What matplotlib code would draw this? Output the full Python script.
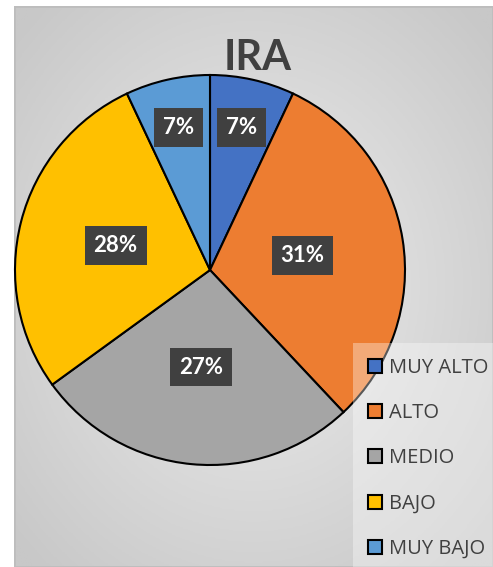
import numpy as np
import matplotlib as mpl
mpl.use('Agg')
import matplotlib.pyplot as plt

# data
categories = ['MUY ALTO', 'ALTO', 'MEDIO', 'BAJO', 'MUY BAJO']
values = [7, 31, 27, 28, 7]
colors = ['#4472C4', '#ED7D31', '#A5A5A5', '#FFC000', '#5B9BD5']
label_r = [0.75, 0.48, 0.5, 0.5, 0.75]  # where Excel put each data label

W, H = 493, 567
fig = plt.figure(figsize=(W / 100, H / 100), dpi=100)
fig.patch.set_facecolor('white')

# chart area with radial gray gradient
bg = fig.add_axes([14 / W, 0, 1 - 14 / W, 1 - 6 / H])
bg.set_axis_off()
yy, xx = np.mgrid[-1:1:300j, -1:1:300j]
rr = np.clip(np.sqrt(xx ** 2 + yy ** 2) / 1.35, 0, 1)
bg.imshow(rr, cmap=mpl.colors.LinearSegmentedColormap.from_list(
    'g', ['#ededed', '#c8c8c8']), aspect='auto', extent=(0, 1, 0, 1))
bg.set_xlim(0, 1)
bg.set_ylim(0, 1)
bg.plot([0, 1, 1, 0, 0], [0, 0, 1, 1, 0], color='#bdbdbd', lw=2)

# pie
cx, cy, R = 210, 270, 195
ax = fig.add_axes([(cx - R) / W, (H - cy - R) / H, 2 * R / W, 2 * R / H])
wedges, texts, autotexts = ax.pie(
    values, colors=colors, startangle=90, counterclock=False,
    autopct=lambda p: '%.0f%%' % p, radius=1,
    wedgeprops=dict(edgecolor='black', linewidth=1.5))
ax.set_xlim(-1, 1)
ax.set_ylim(-1, 1)
ax.set_aspect('equal')

for w, t, r in zip(wedges, autotexts, label_r):
    ang = np.deg2rad((w.theta1 + w.theta2) / 2)
    t.set_position((r * np.cos(ang), r * np.sin(ang)))
    t.set_color('white')
    t.set_fontsize(16)
    t.set_fontweight('bold')
    t.set_family('Lato')
    t.set_bbox(dict(boxstyle='square,pad=0.4', fc='#404040', ec='none'))

fig.text(258 / W, 1 - 58 / H, 'IRA', ha='center', va='center',
         fontsize=30, fontweight='bold', color='#404040', family='Lato')

leg = fig.legend(wedges, categories, loc='upper left',
                 bbox_to_anchor=(353 / W, 1 - 343 / H), frameon=True,
                 prop=dict(family='Open Sans', size=14.5),
                 handlelength=0.7, handleheight=0.7, handletextpad=0.35,
                 labelspacing=1.25, borderpad=0.75, borderaxespad=0,
                 fancybox=False)
leg.get_frame().set_facecolor('white')
leg.get_frame().set_alpha(0.35)
leg.get_frame().set_edgecolor('none')
for t in leg.get_texts():
    t.set_color('#404040')

fig.savefig('out.png', dpi=100)
